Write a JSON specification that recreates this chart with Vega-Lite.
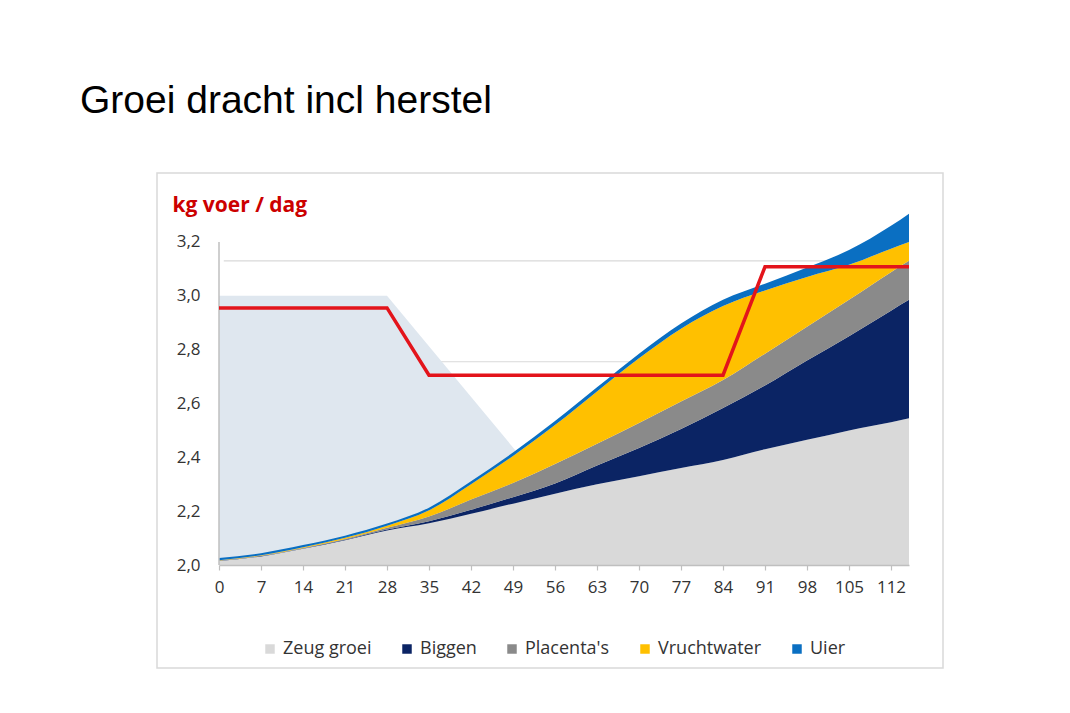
{
  "$schema": "https://vega.github.io/schema/vega-lite/v6.json",
  "width": 690,
  "height": 358,
  "autosize": {"type": "none"},
  "padding": {"left": 219, "top": 207, "right": 161, "bottom": 148},
  "background": "white",
  "title": {
    "text": "Groei dracht incl herstel",
    "anchor": "start",
    "frame": "group",
    "font": "Liberation Sans",
    "fontSize": 39,
    "fontWeight": "normal",
    "color": "#000000",
    "baseline": "alphabetic",
    "offset": 0,
    "dx": -139,
    "dy": -20
  },
  "config": {"view": {"stroke": null}, "font": "Open Sans"},
  "datasets": {
    "parts": [
      {"day": 0, "part": "Zeug groei", "laag": 1, "kg": 2.015}, {"day": 0, "part": "Biggen", "laag": 2, "kg": 0.001}, {"day": 0, "part": "Placenta's", "laag": 3, "kg": 0.001}, {"day": 0, "part": "Vruchtwater", "laag": 4, "kg": 0.001}, {"day": 0, "part": "Uier", "laag": 5, "kg": 0.008},
      {"day": 7, "part": "Zeug groei", "laag": 1, "kg": 2.032}, {"day": 7, "part": "Biggen", "laag": 2, "kg": 0.001}, {"day": 7, "part": "Placenta's", "laag": 3, "kg": 0.001}, {"day": 7, "part": "Vruchtwater", "laag": 4, "kg": 0.002}, {"day": 7, "part": "Uier", "laag": 5, "kg": 0.008},
      {"day": 14, "part": "Zeug groei", "laag": 1, "kg": 2.06}, {"day": 14, "part": "Biggen", "laag": 2, "kg": 0.001}, {"day": 14, "part": "Placenta's", "laag": 3, "kg": 0.002}, {"day": 14, "part": "Vruchtwater", "laag": 4, "kg": 0.003}, {"day": 14, "part": "Uier", "laag": 5, "kg": 0.008},
      {"day": 21, "part": "Zeug groei", "laag": 1, "kg": 2.092}, {"day": 21, "part": "Biggen", "laag": 2, "kg": 0.002}, {"day": 21, "part": "Placenta's", "laag": 3, "kg": 0.003}, {"day": 21, "part": "Vruchtwater", "laag": 4, "kg": 0.004}, {"day": 21, "part": "Uier", "laag": 5, "kg": 0.008},
      {"day": 28, "part": "Zeug groei", "laag": 1, "kg": 2.128}, {"day": 28, "part": "Biggen", "laag": 2, "kg": 0.004}, {"day": 28, "part": "Placenta's", "laag": 3, "kg": 0.006}, {"day": 28, "part": "Vruchtwater", "laag": 4, "kg": 0.008}, {"day": 28, "part": "Uier", "laag": 5, "kg": 0.008},
      {"day": 35, "part": "Zeug groei", "laag": 1, "kg": 2.155}, {"day": 35, "part": "Biggen", "laag": 2, "kg": 0.008}, {"day": 35, "part": "Placenta's", "laag": 3, "kg": 0.017}, {"day": 35, "part": "Vruchtwater", "laag": 4, "kg": 0.023}, {"day": 35, "part": "Uier", "laag": 5, "kg": 0.01},
      {"day": 42, "part": "Zeug groei", "laag": 1, "kg": 2.19}, {"day": 42, "part": "Biggen", "laag": 2, "kg": 0.015}, {"day": 42, "part": "Placenta's", "laag": 3, "kg": 0.038}, {"day": 42, "part": "Vruchtwater", "laag": 4, "kg": 0.057}, {"day": 42, "part": "Uier", "laag": 5, "kg": 0.011},
      {"day": 49, "part": "Zeug groei", "laag": 1, "kg": 2.228}, {"day": 49, "part": "Biggen", "laag": 2, "kg": 0.024}, {"day": 49, "part": "Placenta's", "laag": 3, "kg": 0.053}, {"day": 49, "part": "Vruchtwater", "laag": 4, "kg": 0.1}, {"day": 49, "part": "Uier", "laag": 5, "kg": 0.013},
      {"day": 56, "part": "Zeug groei", "laag": 1, "kg": 2.265}, {"day": 56, "part": "Biggen", "laag": 2, "kg": 0.038}, {"day": 56, "part": "Placenta's", "laag": 3, "kg": 0.072}, {"day": 56, "part": "Vruchtwater", "laag": 4, "kg": 0.145}, {"day": 56, "part": "Uier", "laag": 5, "kg": 0.015},
      {"day": 63, "part": "Zeug groei", "laag": 1, "kg": 2.3}, {"day": 63, "part": "Biggen", "laag": 2, "kg": 0.07}, {"day": 63, "part": "Placenta's", "laag": 3, "kg": 0.08}, {"day": 63, "part": "Vruchtwater", "laag": 4, "kg": 0.195}, {"day": 63, "part": "Uier", "laag": 5, "kg": 0.015},
      {"day": 70, "part": "Zeug groei", "laag": 1, "kg": 2.33}, {"day": 70, "part": "Biggen", "laag": 2, "kg": 0.105}, {"day": 70, "part": "Placenta's", "laag": 3, "kg": 0.093}, {"day": 70, "part": "Vruchtwater", "laag": 4, "kg": 0.24}, {"day": 70, "part": "Uier", "laag": 5, "kg": 0.017},
      {"day": 77, "part": "Zeug groei", "laag": 1, "kg": 2.36}, {"day": 77, "part": "Biggen", "laag": 2, "kg": 0.145}, {"day": 77, "part": "Placenta's", "laag": 3, "kg": 0.102}, {"day": 77, "part": "Vruchtwater", "laag": 4, "kg": 0.271}, {"day": 77, "part": "Uier", "laag": 5, "kg": 0.019},
      {"day": 84, "part": "Zeug groei", "laag": 1, "kg": 2.39}, {"day": 84, "part": "Biggen", "laag": 2, "kg": 0.193}, {"day": 84, "part": "Placenta's", "laag": 3, "kg": 0.104}, {"day": 84, "part": "Vruchtwater", "laag": 4, "kg": 0.275}, {"day": 84, "part": "Uier", "laag": 5, "kg": 0.023},
      {"day": 91, "part": "Zeug groei", "laag": 1, "kg": 2.43}, {"day": 91, "part": "Biggen", "laag": 2, "kg": 0.237}, {"day": 91, "part": "Placenta's", "laag": 3, "kg": 0.118}, {"day": 91, "part": "Vruchtwater", "laag": 4, "kg": 0.235}, {"day": 91, "part": "Uier", "laag": 5, "kg": 0.025},
      {"day": 98, "part": "Zeug groei", "laag": 1, "kg": 2.465}, {"day": 98, "part": "Biggen", "laag": 2, "kg": 0.295}, {"day": 98, "part": "Placenta's", "laag": 3, "kg": 0.125}, {"day": 98, "part": "Vruchtwater", "laag": 4, "kg": 0.185}, {"day": 98, "part": "Uier", "laag": 5, "kg": 0.035},
      {"day": 105, "part": "Zeug groei", "laag": 1, "kg": 2.5}, {"day": 105, "part": "Biggen", "laag": 2, "kg": 0.35}, {"day": 105, "part": "Placenta's", "laag": 3, "kg": 0.135}, {"day": 105, "part": "Vruchtwater", "laag": 4, "kg": 0.13}, {"day": 105, "part": "Uier", "laag": 5, "kg": 0.055},
      {"day": 112, "part": "Zeug groei", "laag": 1, "kg": 2.53}, {"day": 112, "part": "Biggen", "laag": 2, "kg": 0.415}, {"day": 112, "part": "Placenta's", "laag": 3, "kg": 0.143}, {"day": 112, "part": "Vruchtwater", "laag": 4, "kg": 0.087}, {"day": 112, "part": "Uier", "laag": 5, "kg": 0.085},
      {"day": 115, "part": "Zeug groei", "laag": 1, "kg": 2.545}, {"day": 115, "part": "Biggen", "laag": 2, "kg": 0.44}, {"day": 115, "part": "Placenta's", "laag": 3, "kg": 0.145}, {"day": 115, "part": "Vruchtwater", "laag": 4, "kg": 0.07}, {"day": 115, "part": "Uier", "laag": 5, "kg": 0.105}
    ],
    "voer": [
      {"day": 0, "kg": 2.955}, {"day": 28, "kg": 2.955}, {"day": 35, "kg": 2.705},
      {"day": 84, "kg": 2.705}, {"day": 91, "kg": 3.108}, {"day": 115, "kg": 3.108}
    ],
    "herstel": [
      {"day": 0, "kg": 3.0}, {"day": 28, "kg": 3.0}, {"day": 50, "kg": 2.41}
    ],
    "gridlines": [
      {"kg": 2.755}, {"kg": 3.13}
    ]
  },
  "layer": [
    {
      "data": {"values": [{}]},
      "mark": {"type": "rect", "fillOpacity": 0, "stroke": "#d9d9d9", "strokeWidth": 1.5, "clip": false},
      "encoding": {
        "x": {"datum": -10.333, "type": "quantitative"},
        "x2": {"datum": 120.667},
        "y": {"datum": 1.6173, "type": "quantitative"},
        "y2": {"datum": 3.4563}
      }
    },
    {
      "data": {"name": "gridlines"},
      "mark": {"type": "rule", "color": "#d9d9d9", "strokeWidth": 1.2},
      "encoding": {
        "y": {"field": "kg", "type": "quantitative"},
        "x": {"datum": 0.8, "type": "quantitative"},
        "x2": {"datum": 115}
      }
    },
    {
      "data": {"name": "herstel"},
      "mark": {"type": "area", "color": "#dfe7ef", "interpolate": "linear"},
      "encoding": {
        "x": {"field": "day", "type": "quantitative"},
        "y": {"field": "kg", "type": "quantitative"},
        "y2": {"datum": 2.0}
      }
    },
    {
      "data": {"name": "parts"},
      "mark": {"type": "area", "interpolate": "monotone", "clip": true},
      "encoding": {
        "x": {
          "field": "day",
          "type": "quantitative",
          "scale": {"domain": [0, 115], "nice": false, "zero": false},
          "axis": {
            "title": null,
            "values": [0, 7, 14, 21, 28, 35, 42, 49, 56, 63, 70, 77, 84, 91, 98, 105, 112],
            "grid": false,
            "labelFlush": false,
            "domainColor": "#bfbfbf",
            "domainWidth": 1.5,
            "tickColor": "#bfbfbf",
            "tickSize": 5,
            "tickWidth": 1.2,
            "labelFont": "Open Sans",
            "labelFontSize": 17,
            "labelColor": "#333333",
            "labelPadding": 9,
            "zindex": 1
          }
        },
        "y": {
          "field": "kg",
          "type": "quantitative",
          "stack": "zero",
          "scale": {"domain": [2.0, 3.33], "nice": false, "zero": false},
          "axis": {
            "title": "kg voer / dag",
            "titleAngle": 0,
            "titleAlign": "left",
            "titleBaseline": "alphabetic",
            "titleX": -47,
            "titleY": 4,
            "titleFont": "Open Sans",
            "titleFontSize": 21,
            "titleFontWeight": "bold",
            "titleColor": "#cc0000",
            "values": [2.0, 2.2, 2.4, 2.6, 2.8, 3.0, 3.2],
            "labelExpr": "replace(format(datum.value, '.1f'), '.', ',')",
            "grid": false,
            "domain": false,
            "ticks": false,
            "labelFont": "Open Sans",
            "labelFontSize": 17,
            "labelColor": "#333333",
            "labelPadding": 19
          }
        },
        "order": {"field": "laag", "type": "quantitative", "sort": "ascending"},
        "color": {
          "field": "part",
          "type": "nominal",
          "sort": ["Zeug groei", "Biggen", "Placenta's", "Vruchtwater", "Uier"],
          "scale": {
            "domain": ["Zeug groei", "Biggen", "Placenta's", "Vruchtwater", "Uier"],
            "range": ["#d9d9d9", "#0b2464", "#8a8a8a", "#ffc000", "#0a6fc2"]
          },
          "legend": {
            "title": null,
            "orient": "none",
            "legendX": 42,
            "legendY": 433,
            "direction": "horizontal",
            "symbolType": "square",
            "symbolSize": 90,
            "symbolStrokeWidth": 0,
            "labelFont": "Open Sans",
            "labelFontSize": 18,
            "labelColor": "#333333",
            "labelOffset": 4,
            "columnPadding": 26
          }
        }
      }
    },
    {
      "data": {"values": [{}]},
      "mark": {"type": "rule", "color": "#bfbfbf", "strokeWidth": 1.5},
      "encoding": {
        "x": {"datum": 0, "type": "quantitative"},
        "y": {"datum": 2.0, "type": "quantitative"},
        "y2": {"datum": 3.2}
      }
    },
    {
      "data": {"name": "voer"},
      "mark": {"type": "line", "color": "#e3141b", "strokeWidth": 3.5, "strokeJoin": "miter"},
      "encoding": {
        "x": {"field": "day", "type": "quantitative"},
        "y": {"field": "kg", "type": "quantitative"}
      }
    }
  ]
}
